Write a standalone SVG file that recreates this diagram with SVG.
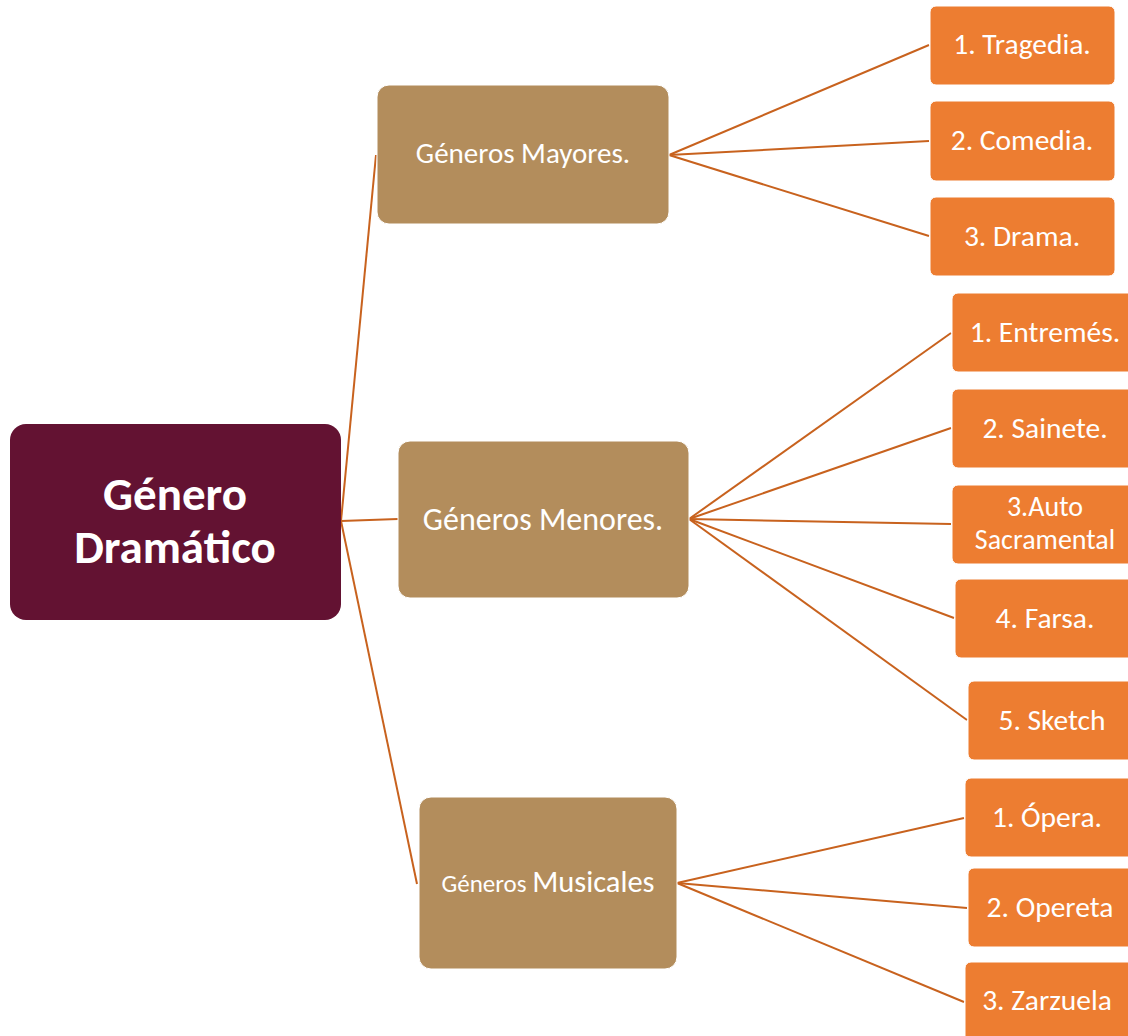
<svg xmlns="http://www.w3.org/2000/svg" width="1128" height="1036" viewBox="0 0 1128 1036">
<style>
text{font-family:Carlito,"Open Sans","Noto Sans","Liberation Sans",sans-serif;fill:#fff;text-anchor:middle}
.leaf rect{fill:#ED7D31;stroke:#fff;stroke-width:1}
.leaf text{font-size:29.5px}
.leaf text.two{font-size:28px}
.mid rect{fill:#B38D5C;stroke:#fff;stroke-width:1}
#conn line{stroke:#C8621E;stroke-width:2}
</style>
<rect width="1128" height="1036" fill="#fff"/>
<g id="conn">
<line x1="341" y1="521" x2="376" y2="155"/>
<line x1="341" y1="521" x2="398" y2="519"/>
<line x1="341" y1="521" x2="417" y2="884"/>
<line x1="669" y1="155" x2="929" y2="45"/>
<line x1="669" y1="155" x2="929" y2="141"/>
<line x1="669" y1="155" x2="929" y2="236"/>
<line x1="689" y1="519" x2="951" y2="333"/>
<line x1="689" y1="519" x2="951" y2="428"/>
<line x1="689" y1="519" x2="951" y2="524"/>
<line x1="689" y1="519" x2="954" y2="618"/>
<line x1="689" y1="519" x2="967" y2="720"/>
<line x1="677" y1="883" x2="964" y2="818"/>
<line x1="677" y1="883" x2="967" y2="908"/>
<line x1="677" y1="883" x2="964" y2="1002"/>
</g>
<g id="root">
<rect x="10" y="424" width="331" height="196" rx="16" fill="#631232"/>
<text x="175" y="510" font-size="47" font-weight="bold">Género</text>
<text x="175" y="563" font-size="47" font-weight="bold">Dramático</text>
</g>
<g id="mayores" class="mid">
<rect x="377" y="85" width="292" height="139" rx="12"/>
<text x="523" y="163" font-size="29">Géneros Mayores.</text>
</g>
<g id="menores" class="mid">
<rect x="398" y="441" width="291" height="157" rx="12"/>
<text x="543" y="530" font-size="32">Géneros Menores.</text>
</g>
<g id="musicales" class="mid">
<rect x="419" y="797" width="258" height="172" rx="12"/>
<text x="548" y="892"><tspan font-size="25">Géneros </tspan><tspan font-size="30.5">Musicales</tspan></text>
</g>
<g id="tragedia" class="leaf"><rect x="930" y="6" width="185" height="79" rx="6"/><text x="1022" y="54">1. Tragedia.</text></g>
<g id="comedia" class="leaf"><rect x="930" y="101" width="185" height="80" rx="6"/><text x="1022" y="150">2. Comedia.</text></g>
<g id="drama" class="leaf"><rect x="930" y="197" width="185" height="79" rx="6"/><text x="1022" y="246">3. Drama.</text></g>
<g id="entremes" class="leaf"><rect x="952" y="293" width="190" height="79" rx="6"/><text x="1045" y="342">1. Entremés.</text></g>
<g id="sainete" class="leaf"><rect x="952" y="389" width="190" height="79" rx="6"/><text x="1045" y="438">2. Sainete.</text></g>
<g id="auto" class="leaf"><rect x="952" y="485" width="190" height="79" rx="6"/><text class="two" x="1045" y="516">3.Auto</text><text class="two" x="1045" y="549">Sacramental</text></g>
<g id="farsa" class="leaf"><rect x="955" y="579" width="190" height="79" rx="6"/><text x="1045" y="628">4. Farsa.</text></g>
<g id="sketch" class="leaf"><rect x="968" y="681" width="180" height="79" rx="6"/><text x="1052" y="730">5. Sketch</text></g>
<g id="opera" class="leaf"><rect x="965" y="778" width="180" height="79" rx="6"/><text x="1047" y="827">1. Ópera.</text></g>
<g id="opereta" class="leaf"><rect x="968" y="868" width="180" height="79" rx="6"/><text x="1050" y="917">2. Opereta</text></g>
<g id="zarzuela" class="leaf"><rect x="965" y="962" width="180" height="85" rx="6"/><text x="1047" y="1010">3. Zarzuela</text></g>
</svg>
